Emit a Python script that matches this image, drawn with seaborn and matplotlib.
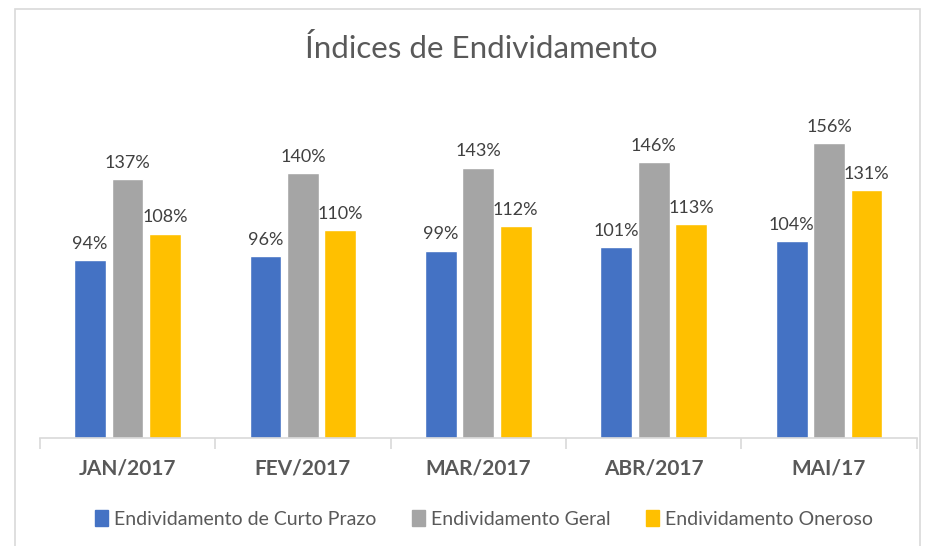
import pandas as pd
import matplotlib.pyplot as plt
import matplotlib.patches as mpatches
import seaborn as sns

# Dados
meses = ["JAN/2017", "FEV/2017", "MAR/2017", "ABR/2017", "MAI/17"]
series = ["Endividamento de Curto Prazo", "Endividamento Geral", "Endividamento Oneroso"]
curto_prazo = [94, 96, 99, 101, 104]
geral = [137, 140, 143, 146, 156]
oneroso = [108, 110, 112, 113, 131]
cores = ["#4472C4", "#A5A5A5", "#FFC000"]

df = pd.DataFrame({
    "Mes": meses * 3,
    "Serie": [series[0]] * 5 + [series[1]] * 5 + [series[2]] * 5,
    "Valor": curto_prazo + geral + oneroso,
})

sns.set_style("white")
plt.rcParams['font.family'] = ['Lato', 'DejaVu Sans']

fig = plt.figure(figsize=(9.26, 5.46), dpi=100)
ax = fig.add_axes([0.043, 0.198, 0.947, 0.623])

# moldura do gráfico
fig.patches.append(mpatches.Rectangle((15 / 926, -0.05), 905 / 926, 1 - 9 / 546 + 0.05,
                                      transform=fig.transFigure, fill=False,
                                      edgecolor="#d9d9d9", linewidth=1.2))

sns.barplot(data=df, x="Mes", y="Valor", hue="Serie", palette=cores, saturation=1,
            width=0.64, gap=0.15, ax=ax, legend=False)

for cont in ax.containers:
    ax.bar_label(cont, labels=[f"{v:.0f}%" for v in cont.datavalues],
                 padding=6, fontsize=13, color="#404040")

ax.set_ylim(0, 180)
ax.set_xlim(-0.5, 4.5)
ax.set_yticks([])
ax.set_xlabel("")
ax.set_ylabel("")
for s in ["top", "right", "left"]:
    ax.spines[s].set_visible(False)
ax.spines["bottom"].set_color("#d9d9d9")
ax.spines["bottom"].set_linewidth(1.2)

# marcas entre categorias
ax.set_xticks([-0.5, 0.5, 1.5, 2.5, 3.5, 4.5], minor=True)
ax.tick_params(axis="x", which="minor", length=8, color="#d9d9d9", width=1.2, bottom=True)
ax.tick_params(axis="x", which="major", length=0, pad=15, labelsize=15, labelcolor="#595959")
for lbl in ax.get_xticklabels():
    lbl.set_fontweight("bold")

fig.text(481 / 926, 1 - 48 / 546, "Índices de Endividamento", ha="center", va="center",
         fontsize=22.5, color="#595959")

handles = [mpatches.Patch(color=c, label=s) for c, s in zip(cores, series)]
fig.legend(handles=handles, loc="center", bbox_to_anchor=(484 / 926, 1 - 519 / 546), ncol=3,
           frameon=False, fontsize=14, handlelength=0.7, handleheight=0.9,
           handletextpad=0.3, columnspacing=1.8, labelcolor="#595959")

fig.savefig("out.png", dpi=100)
